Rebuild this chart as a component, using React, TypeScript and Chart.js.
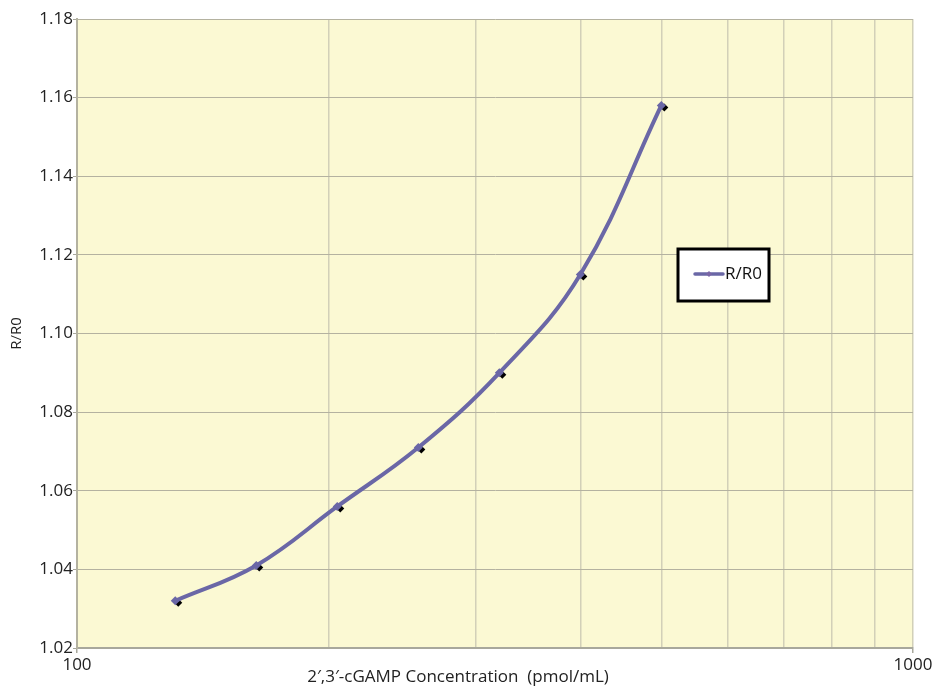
import React, { useEffect, useRef } from "react";
import { Chart, registerables } from "chart.js";

Chart.register(...registerables);

const concentrations = [131.072, 163.84, 204.8, 256, 320, 400, 500];
const ratios = [1.032, 1.041, 1.056, 1.071, 1.09, 1.115, 1.158];
const seriesLabel = "R/R0";
const xTitle = "2\u2032,3\u2032-cGAMP Concentration  (pmol/mL)";
const yTitle = "R/R0";
const xLabeledTicks = [100, 1000];

const FONT = "'Open Sans', 'Noto Sans', sans-serif";
const LINE_COLOR = "#6a67a6";

const bgPlugin = {
  id: "bgPlugin",
  beforeDraw(chart: any) {
    const { ctx, chartArea } = chart;
    ctx.save();
    ctx.fillStyle = "#ffffff";
    ctx.fillRect(0, 0, chart.width, chart.height);
    ctx.fillStyle = "#fbf9d3";
    ctx.fillRect(chartArea.left, chartArea.top, chartArea.right - chartArea.left, chartArea.bottom - chartArea.top);
    ctx.restore();
  },
  beforeDatasetsDraw(chart: any) {
    const { ctx } = chart;
    const meta = chart.getDatasetMeta(0);
    ctx.save();
    ctx.fillStyle = "#000000";
    meta.data.forEach((pt: any) => {
      const x = pt.x + 3;
      const y = pt.y + 2;
      const r = 4;
      ctx.beginPath();
      ctx.moveTo(x, y - r);
      ctx.lineTo(x + r, y);
      ctx.lineTo(x, y + r);
      ctx.lineTo(x - r, y);
      ctx.closePath();
      ctx.fill();
    });
    ctx.restore();
  },
  afterDraw(chart: any) {
    const { ctx, chartArea } = chart;
    ctx.save();
    // x axis title
    ctx.fillStyle = "#222222";
    ctx.font = "17px " + FONT;
    ctx.textAlign = "center";
    ctx.textBaseline = "middle";
    ctx.fillText(xTitle, 458, chart.height - 11);
    // legend box
    const bx = chartArea.left + 601;
    const by = chartArea.top + 230;
    const bw = 91;
    const bh = 52;
    ctx.fillStyle = "#ffffff";
    ctx.fillRect(bx, by, bw, bh);
    ctx.lineWidth = 3;
    ctx.strokeStyle = "#000000";
    ctx.strokeRect(bx, by, bw, bh);
    const ly = by + bh / 2 - 1;
    ctx.strokeStyle = LINE_COLOR;
    ctx.lineWidth = 3.5;
    ctx.lineCap = "round";
    ctx.beginPath();
    ctx.moveTo(bx + 17, ly);
    ctx.lineTo(bx + 45, ly);
    ctx.stroke();
    ctx.fillStyle = "#7a66a6";
    ctx.beginPath();
    ctx.moveTo(bx + 31, ly - 3);
    ctx.lineTo(bx + 34, ly);
    ctx.lineTo(bx + 31, ly + 3);
    ctx.lineTo(bx + 28, ly);
    ctx.closePath();
    ctx.fill();
    ctx.fillStyle = "#111111";
    ctx.font = "17px " + FONT;
    ctx.textAlign = "left";
    ctx.textBaseline = "middle";
    ctx.fillText(seriesLabel, bx + 47, ly);
    ctx.restore();
  },
};

export default function App() {
  const ref = useRef<HTMLCanvasElement>(null);
  useEffect(() => {
    document.body.style.margin = "0";
    const canvas = ref.current!;
    const chart = new Chart(canvas, {
      type: "line",
      data: {
        datasets: [
          {
            label: seriesLabel,
            data: concentrations.map((x, i) => ({ x, y: ratios[i] })),
            borderColor: LINE_COLOR,
            backgroundColor: LINE_COLOR,
            borderWidth: 4,
            tension: 0.4,
            pointStyle: "rectRot",
            pointRadius: 4.5,
            pointBackgroundColor: LINE_COLOR,
            pointBorderWidth: 0,
          },
        ],
      },
      options: {
        animation: false,
        responsive: false,
        layout: { padding: { top: 19, right: 28, left: 0, bottom: 0 } },
        plugins: { legend: { display: false }, tooltip: { enabled: false } },
        scales: {
          x: {
            type: "logarithmic",
            min: 100,
            max: 1000,
            afterFit: (s: any) => {
              s.height = 40;
            },
            afterBuildTicks: (s: any) => {
              s.ticks = [100, 200, 300, 400, 500, 600, 700, 800, 900, 1000].map((v) => ({ value: v }));
            },
            ticks: {
              autoSkip: false,
              maxRotation: 0,
              padding: 2,
              color: "#222222",
              font: { family: FONT, size: 17 },
              callback: (v: any) => (xLabeledTicks.includes(Number(v)) ? String(v) : ""),
            },
            grid: {
              color: "#d2d0b8",
              lineWidth: 1.5,
              tickLength: 5,
              tickColor: (c: any) =>
                c.tick && xLabeledTicks.includes(c.tick.value) ? "#a8a89c" : "rgba(0,0,0,0)",
            },
            border: { color: "#a8a89c", width: 2 },
          },
          y: {
            min: 1.02,
            max: 1.18,
            afterFit: (s: any) => {
              s.width = 77;
            },
            ticks: {
              stepSize: 0.02,
              padding: 0,
              color: "#222222",
              font: { family: FONT, size: 17 },
              callback: (v: any) => Number(v).toFixed(2),
            },
            title: {
              display: true,
              text: yTitle,
              color: "#222222",
              font: { family: FONT, size: 15 },
              padding: { top: 8, bottom: 0 },
            },
            grid: {
              color: "#b4b2a0",
              lineWidth: 1,
              tickLength: 4,
              tickColor: "#a8a89c",
            },
            border: { color: "#b4b2a0", width: 2 },
          },
        },
      },
      plugins: [bgPlugin],
    });
    return () => chart.destroy();
  }, []);
  return <canvas ref={ref} width={941} height={688} style={{ display: "block" }} />;
}
